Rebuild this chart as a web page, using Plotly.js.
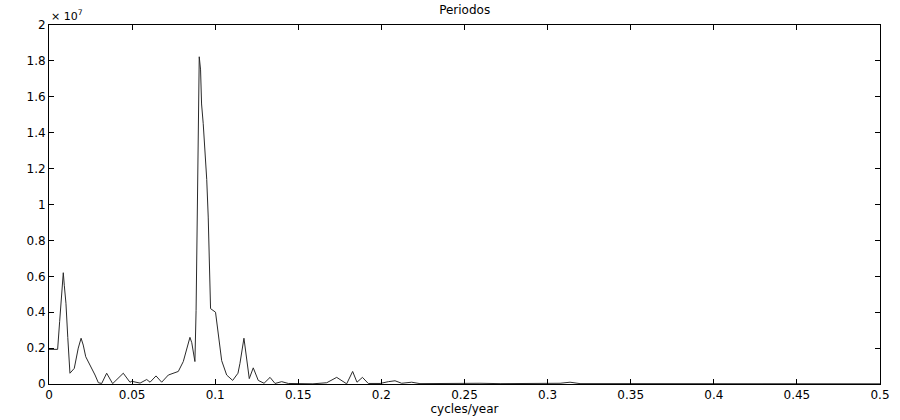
<!DOCTYPE html>
<html>
<head>
<meta charset="utf-8">
<script src="https://cdn.plot.ly/plotly-3.0.1.min.js"></script>
<style>
  html, body { margin: 0; padding: 0; background: #fff; }
  #chart { width: 900px; height: 420px; }
</style>
</head>
<body>
<div id="chart"></div>
<script>
// Periodogram: frequency (cycles/year) and power
const freq = [
  0.0000, 0.0052, 0.0064, 0.0086, 0.0092, 0.0102, 0.0113, 0.0126, 0.0152, 0.0176,
  0.0193, 0.0206, 0.0221, 0.0247, 0.0277, 0.0297, 0.0317, 0.0347, 0.0383, 0.0447,
  0.0487, 0.0498, 0.0548, 0.0588, 0.0608, 0.0644, 0.0678, 0.0718, 0.0778, 0.0808,
  0.0818, 0.0833, 0.0848, 0.0859, 0.0878, 0.0885, 0.0894, 0.0904, 0.0912, 0.0918,
  0.0928, 0.0939, 0.0949, 0.0958, 0.0972, 0.1002, 0.1019, 0.1029, 0.1039, 0.1069,
  0.1105, 0.1137, 0.1149, 0.1173, 0.1190, 0.1205, 0.1229, 0.1259, 0.1294, 0.1330,
  0.1360, 0.1400, 0.1440, 0.1510, 0.1588, 0.1671, 0.1731, 0.1791, 0.1827, 0.1853,
  0.1886, 0.1921, 0.1992, 0.2042, 0.2082, 0.2122, 0.2182, 0.2232, 0.2353, 0.2473,
  0.2593, 0.2714, 0.2834, 0.2954, 0.3075, 0.3135, 0.3195, 0.3500, 0.4000, 0.4500,
  0.5000
];
const power = [
  1.93e6, 1.93e6, 3.47e6, 6.20e6, 5.50e6, 4.50e6, 2.60e6, 0.60e6, 0.87e6, 2.00e6,
  2.55e6, 2.17e6, 1.52e6, 1.06e6, 0.50e6, 0.07e6, 0.03e6, 0.60e6, 0.02e6, 0.60e6,
  0.10e6, 0.15e6, 0.05e6, 0.25e6, 0.10e6, 0.45e6, 0.10e6, 0.50e6, 0.70e6, 1.25e6,
  1.60e6, 2.20e6, 2.60e6, 2.30e6, 1.25e6, 4.10e6, 9.70e6, 18.23e6, 17.50e6, 15.60e6,
  14.50e6, 13.10e6, 11.40e6, 9.30e6, 4.20e6, 4.00e6, 2.80e6, 1.90e6, 1.30e6, 0.50e6,
  0.20e6, 0.60e6, 1.15e6, 2.55e6, 1.25e6, 0.30e6, 0.90e6, 0.20e6, 0.04e6, 0.37e6,
  0.03e6, 0.13e6, 0.03e6, 0.02e6, 0.01e6, 0.07e6, 0.37e6, 0.01e6, 0.70e6, 0.10e6,
  0.37e6, 0.03e6, 0.03e6, 0.13e6, 0.18e6, 0.04e6, 0.10e6, 0.02e6, 0.04e6, 0.02e6,
  0.04e6, 0.02e6, 0.03e6, 0.02e6, 0.04e6, 0.10e6, 0.02e6, 0.02e6, 0.01e6, 0.02e6,
  0.01e6
];

const xTickVals = [0, 0.05, 0.1, 0.15, 0.2, 0.25, 0.3, 0.35, 0.4, 0.45, 0.5];
const xTickText = ["0", "0.05", "0.1", "0.15", "0.2", "0.25", "0.3", "0.35", "0.4", "0.45", "0.5"];
const yTickVals = [0, 2e6, 4e6, 6e6, 8e6, 10e6, 12e6, 14e6, 16e6, 18e6, 20e6];
const yTickText = ["0", "0.2", "0.4", "0.6", "0.8", "1", "1.2", "1.4", "1.6", "1.8", "2"];

const font = { family: "DejaVu Sans, Arial, sans-serif", size: 12, color: "#000" };

const trace = {
  x: freq,
  y: power,
  type: "scatter",
  mode: "lines",
  line: { color: "#2a2a2a", width: 1 },
  hoverinfo: "skip"
};

const axisCommon = {
  showgrid: false,
  zeroline: false,
  showline: true,
  linecolor: "#000",
  linewidth: 1,
  mirror: "allticks",
  ticks: "inside",
  ticklen: 5,
  tickcolor: "#000",
  tickfont: font
};

const layout = {
  width: 900,
  height: 420,
  margin: { l: 49, r: 20, t: 25, b: 36 },
  paper_bgcolor: "#fff",
  plot_bgcolor: "#fff",
  font: font,
  showlegend: false,
  title: {
    text: "Periodos",
    font: font,
    x: 0.5163, xanchor: "center",
    y: 1 - 10 / 420, yanchor: "middle",
    xref: "container", yref: "container"
  },
  xaxis: Object.assign({}, axisCommon, {
    range: [0, 0.5],
    tickvals: xTickVals,
    ticktext: xTickText,
    title: { text: "cycles/year", font: font, standoff: 0 }
  }),
  yaxis: Object.assign({}, axisCommon, {
    range: [0, 2e7],
    tickvals: yTickVals,
    ticktext: yTickText
  }),
  annotations: [{
    text: "× 10<sup>7</sup>",
    xref: "paper", yref: "paper",
    x: 0, y: 1,
    xanchor: "left", yanchor: "bottom",
    xshift: 0, yshift: 0,
    showarrow: false,
    font: { family: font.family, size: 11, color: "#000" }
  }]
};

Plotly.newPlot("chart", [trace], layout, { staticPlot: true, displayModeBar: false });
</script>
</body>
</html>
